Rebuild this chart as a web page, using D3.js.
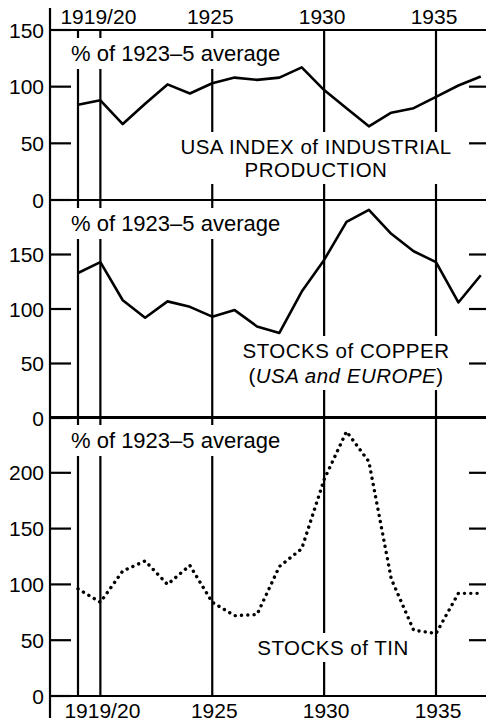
<!DOCTYPE html>
<html>
<head>
<meta charset="utf-8">
<script src="https://cdn.jsdelivr.net/npm/d3@7"></script>
<style>
  body { margin: 0; background: #fff; }
  svg { display: block; font-family: "Liberation Sans", Arial, Helvetica, sans-serif; }
</style>
</head>
<body>
<script>
// Data (% of 1923-5 average)
const years = [1919, 1920, 1921, 1922, 1923, 1924, 1925, 1926, 1927, 1928,
               1929, 1930, 1931, 1932, 1933, 1934, 1935, 1936, 1937];
const usaIndex = [84, 88, 67, 85, 102, 94, 103, 108, 106, 108, 117, 97, 81, 65, 77, 81, 91, 101, 109];
const copperStocks = [133, 143, 108, 92, 107, 102, 93, 99, 84, 78, 116, 145, 180, 191, 169, 153, 143, 106, 131];
const tinStocks = [96, 84, 112, 121, 100, 117, 84, 72, 73, 116, 132, 194, 237, 210, 105, 59, 56, 92, 92];

const gridYears = [1919, 1920, 1925, 1930, 1935];
const xTickYears = [1920, 1925, 1930, 1935];
const xTickLabels = ["1919/20", "1925", "1930", "1935"];

const width = 486, height = 723;
const left = 50, right = 486;

const x = d3.scaleLinear().domain([1919, 1935]).range([78, 436]);

const panels = [
  { values: usaIndex, domain: [0, 150], range: [200, 30], ticks: [0, 50, 100, 150],
    title: [["USA INDEX of INDUSTRIAL"], ["PRODUCTION"]], tx: 316, ty: [154, 177], dotted: false },
  { values: copperStocks, domain: [0, 200], range: [418, 200], ticks: [0, 50, 100, 150],
    title: [["STOCKS of COPPER"], ["(", "USA and EUROPE", ")"]], tx: 346, ty: [358, 383], dotted: false },
  { values: tinStocks, domain: [0, 250], range: [696, 417], ticks: [0, 50, 100, 150, 200],
    title: [["STOCKS of TIN"]], tx: 333, ty: [655], dotted: true }
];

const svg = d3.select("body").append("svg")
  .attr("width", width)
  .attr("height", height);

const gGrid = svg.append("g");
const gMask = svg.append("g");
const gText = svg.append("g");
const gData = svg.append("g");

// vertical year lines
gGrid.selectAll("line.year")
  .data(gridYears)
  .enter().append("line")
  .attr("x1", d => x(d)).attr("x2", d => x(d))
  .attr("y1", 30).attr("y2", 696)
  .attr("stroke", "#000").attr("stroke-width", 2.2);

// left axis line
gGrid.append("line")
  .attr("x1", left).attr("x2", left)
  .attr("y1", 8).attr("y2", 718)
  .attr("stroke", "#000").attr("stroke-width", 2.2);

// top year labels
gText.selectAll("text.top")
  .data(xTickYears)
  .enter().append("text")
  .attr("x", d => x(d) - 2)
  .attr("y", 24)
  .attr("text-anchor", "middle")
  .attr("font-size", 21)
  .text((d, i) => xTickLabels[i]);

// bottom year labels
gText.selectAll("text.bottom")
  .data(xTickYears)
  .enter().append("text")
  .attr("x", d => x(d) + 2)
  .attr("y", 718)
  .attr("text-anchor", "middle")
  .attr("font-size", 21)
  .text((d, i) => xTickLabels[i]);

// white box behind a text so the grid lines break around it
function addMask(node) {
  const b = node.getBBox();
  gMask.append("rect")
    .attr("x", b.x - 3).attr("y", b.y - 3)
    .attr("width", b.width + 6).attr("height", b.height + 6)
    .attr("fill", "#fff");
}

panels.forEach(p => {
  const y = d3.scaleLinear().domain(p.domain).range(p.range);

  // horizontal border lines (top of panel and zero line)
  [p.domain[0], p.domain[1]].forEach(v => {
    gGrid.append("line")
      .attr("x1", left).attr("x2", right)
      .attr("y1", y(v)).attr("y2", y(v))
      .attr("stroke", "#000").attr("stroke-width", 2.2);
  });

  // left ticks
  gGrid.selectAll(null)
    .data(p.ticks)
    .enter().append("line")
    .attr("x1", left).attr("x2", left + 21)
    .attr("y1", d => y(d)).attr("y2", d => y(d))
    .attr("stroke", "#000").attr("stroke-width", 2.2);

  // right ticks
  gGrid.selectAll(null)
    .data(p.ticks.filter(t => t > 0 && t < p.domain[1]))
    .enter().append("line")
    .attr("x1", 469).attr("x2", right)
    .attr("y1", d => y(d)).attr("y2", d => y(d))
    .attr("stroke", "#000").attr("stroke-width", 2.2);

  // tick labels
  gText.selectAll(null)
    .data(p.ticks)
    .enter().append("text")
    .attr("x", 44)
    .attr("y", d => y(d))
    .attr("dy", "0.36em")
    .attr("text-anchor", "end")
    .attr("font-size", 21)
    .text(d => d);

  // unit label
  const unit = gText.append("text")
    .attr("x", 71)
    .attr("y", p.range[1] + 31)
    .attr("font-size", 22)
    .text("% of 1923\u20135 average");
  addMask(unit.node());

  // series title, one text with a tspan per line
  const t = gText.append("text")
    .attr("text-anchor", "middle")
    .attr("font-size", 20.5)
    .attr("letter-spacing", 0.5);
  p.title.forEach((parts, i) => {
    const ln = t.append("tspan")
      .attr("x", p.tx)
      .attr("y", p.ty[i]);
    parts.forEach((s, j) => {
      ln.append("tspan")
        .attr("font-style", parts.length === 3 && j === 1 ? "italic" : "normal")
        .text(s);
    });
  });
  addMask(t.node());

  // data line
  const line = d3.line()
    .x((d, i) => x(years[i]))
    .y(d => y(d));

  const path = gData.append("path")
    .datum(p.values)
    .attr("d", line)
    .attr("fill", "none")
    .attr("stroke", "#000")
    .attr("stroke-linejoin", "round");

  if (p.dotted) {
    path.attr("stroke-width", 3.4)
      .attr("stroke-linecap", "round")
      .attr("stroke-dasharray", "0.1 6.2");
  } else {
    path.attr("stroke-width", 2.6);
  }
});
</script>
</body>
</html>
